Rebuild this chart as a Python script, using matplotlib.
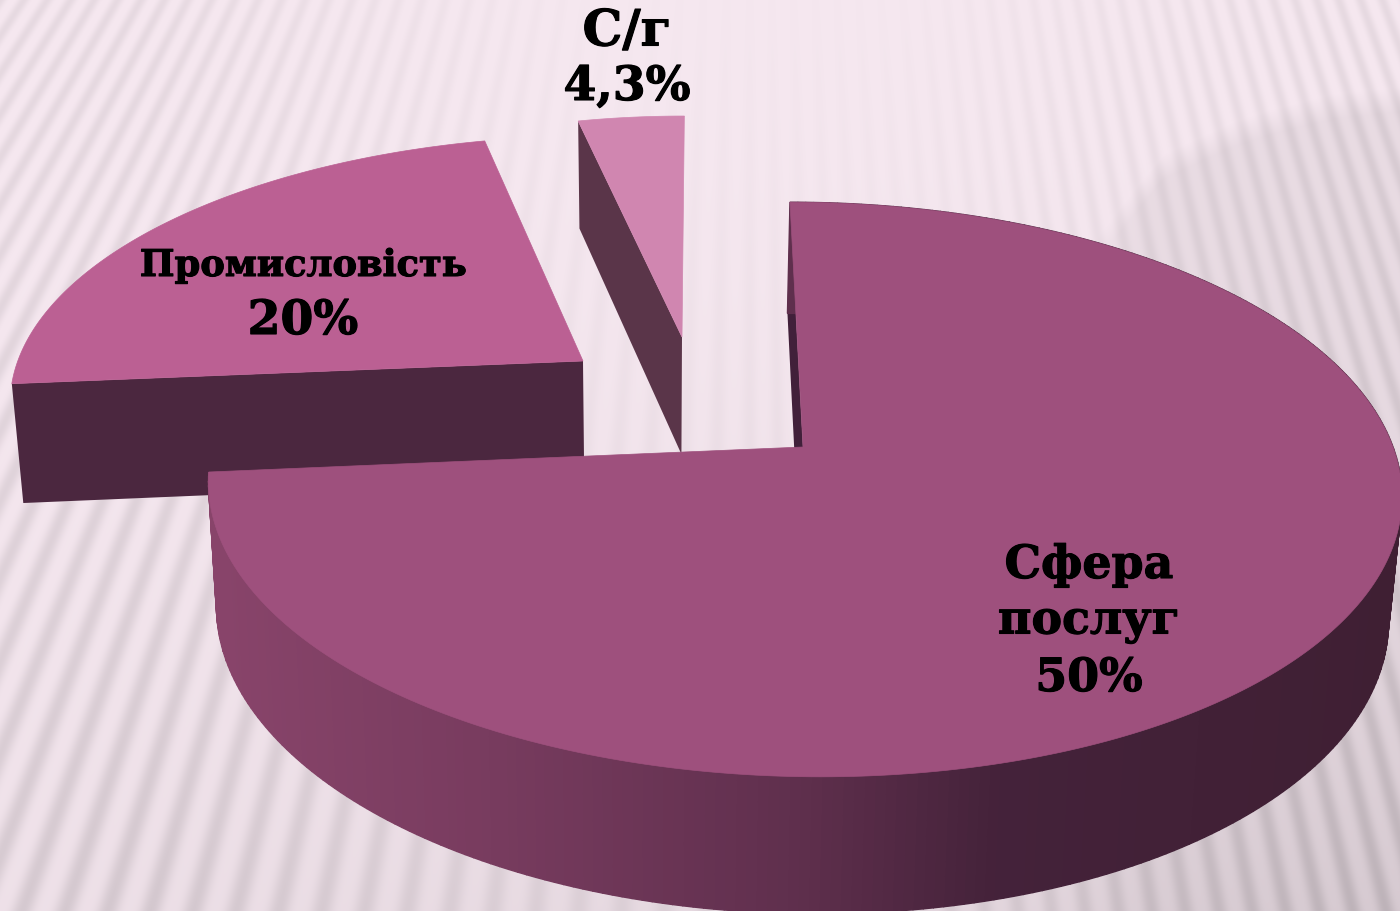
import numpy as np
import matplotlib
matplotlib.use("Agg")
from matplotlib import pyplot as plt
from matplotlib.patches import Polygon
import matplotlib.patheffects as pe

# shares as drawn in the picture (the printed labels do not add up to them)
names = ["Сфера\nпослуг", "Промисловість", "С/г"]
label_values = ["50%", "20%", "4,3%"]
drawn_share = [73.6, 22.8, 3.6]

top_colors = ["#9e507d", "#bb6093", "#d086b0"]
wall_colors = ["#41203a", "#4b273f", "#5a3549"]

# apex of each exploded slice and its scale on the page
apex = [(803, 448), (583, 362), (682, 338)]
scale = [(1.0, 1.0), (0.958, 0.909), (0.905, 0.89)]

A, B, K = 590.0, 281.0, 0.148
VANISH_X = 702.0
W, H = 1400, 912


def top_pts(theta, i):
    # theta in degrees, clockwise from 12 o'clock
    cx, cy = apex[i]
    sx, sy = scale[i]
    t = np.radians(np.asarray(theta, dtype=float))
    x, y = np.sin(t), np.cos(t)
    w = 1 + K * y * sy
    s = K * (VANISH_X - cx)
    px = cx + (A * sx * x + s * y * sy) / w
    py = cy - B * sy * y / w
    return np.column_stack([px, py])


def drop(pts):
    # same points on the underside of the disc
    pts = np.asarray(pts, dtype=float)
    out = pts.copy()
    out[:, 0] = pts[:, 0] + 0.018 * (650 - pts[:, 0])
    out[:, 1] = 102 + 1.045 * pts[:, 1]
    return out


def background():
    yy, xx = np.mgrid[0:H, 0:W]
    xx = xx + 0.5
    yy = yy + 0.5
    # stripes fan out from the top, less steeply on the right side
    phase = np.where(xx < 750, 47.0 * (xx - 750) / (yy + 1100), 78.0 * (xx - 750) / (yy + 1700))
    stripe = (0.5 + 0.5 * np.cos(2 * np.pi * phase)) ** 1.5
    amp = 0.005 + 0.055 * np.clip((np.abs(xx - 750) - 150) / 450, 0, 1) + 0.04 * yy / H
    edge = np.interp(xx, [1050, 1129, 1164, 1233, 1273, 1333, 1400], [300, 197, 155, 123, 110, 95, 88])
    sq = np.clip((yy - edge) / 25, 0, 1) * np.clip((xx - 1050) / 100, 0, 1)
    dark = 0.005 + 0.03 * (yy / H) ** 2 + 0.07 * (yy / H) ** 2 * (xx / W) + 0.055 * sq * (1 - 0.5 * yy / H)
    f = 1 - dark - amp * stripe
    base = np.array([247, 233, 241]) / 255.0
    return np.clip(f[..., None] * base, 0, 1)


def side_color(x):
    stops = [220, 500, 800, 1000, 1400]
    reds = [0x88, 0x77, 0x5f, 0x44, 0x3f]
    greens = [0x44, 0x3b, 0x2f, 0x22, 0x1f]
    blues = [0x6a, 0x5e, 0x4d, 0x3a, 0x33]
    return (np.interp(x, stops, reds) / 255, np.interp(x, stops, greens) / 255, np.interp(x, stops, blues) / 255)


def put(x, y, s, size):
    ax.text(x, y, s, ha="center", va="center", family="DejaVu Serif", weight="bold", fontsize=size,
            color="black", zorder=5, path_effects=[pe.withStroke(linewidth=0.8, foreground="black")])


fig = plt.figure(figsize=(14, 9.12), dpi=100)
ax = fig.add_axes([0, 0, 1, 1])
ax.imshow(background(), extent=[0, W, H, 0], aspect="auto", zorder=0)
ax.set_xlim(0, W)
ax.set_ylim(H, 0)
ax.axis("off")

# turn the shares into angles, clockwise from 12 o'clock
angles = np.array(drawn_share) / sum(drawn_share) * 360
starts = [0.0, angles[0], angles[0] + angles[1]]
ends = [angles[0], angles[0] + angles[1], 360.0]

# painter's order: back slices first, big slice last
for i in [2, 1, 0]:
    arc = top_pts(np.linspace(starts[i], ends[i], 300), i)
    ctr = np.array([apex[i]], dtype=float)
    rim_start = arc[:1]
    quad = np.vstack([ctr, rim_start, drop(rim_start), drop(ctr)])
    ax.add_patch(Polygon(quad, closed=True, fc=wall_colors[i], ec="none", zorder=2))
    if i == 0:
        # outer rim as small strips so the shade runs left to right
        low = drop(arc)
        for j in range(len(arc) - 1):
            q = np.vstack([arc[j], arc[j + 1], low[j + 1], low[j]])
            c = side_color(arc[j:j + 2, 0].mean())
            ax.add_patch(Polygon(q, closed=True, fc=c, ec=c, lw=1.0, zorder=2))
    ax.add_patch(Polygon(np.vstack([ctr, arc]), closed=True, fc=top_colors[i], ec=top_colors[i], lw=0.5, zorder=3))

first, second = names[0].split("\n")
put(1089, 566, first, 33)
put(1089, 622, second, 33)
put(1089, 679, label_values[0], 33)
put(303, 267, names[1], 26.5)
put(303, 322, label_values[1], 34)
put(627, 33, names[2], 36)
put(627, 88, label_values[2], 34)

fig.savefig("out.png", dpi=100)
